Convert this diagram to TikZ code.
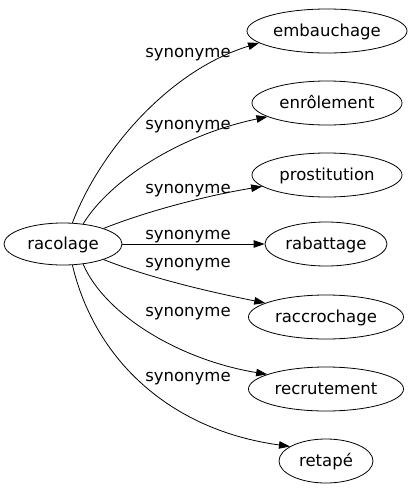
\documentclass[tikz,border=0pt]{standalone}
\usepackage{fontspec}
\setmainfont{DejaVu Sans}
\usetikzlibrary{shapes.geometric,arrows.meta}

\begin{document}
\begin{tikzpicture}[x=1pt,y=-1pt,line width=0.8pt,
    word/.style={draw,ellipse,inner sep=0pt,minimum height=44pt,
        text height=11pt,text depth=0pt,font=\fontsize{16.5}{19}\selectfont},
    syn/.style={anchor=base,inner sep=0pt,font=\fontsize{16.5}{19}\selectfont},
    >={Triangle[length=11pt,width=7.5pt]}]
    \useasboundingbox (0,0) rectangle (410,491);
    % left word and its synonyms
    \node[word,minimum width=118pt,minimum height=42pt] (racolage) at (63,244) {racolage};
    \node[word,minimum width=160pt] (embauchage) at (327,31) {embauchage};
    \node[word,minimum width=150pt] (enrolement) at (327,103) {enrôlement};
    \node[word,minimum width=150pt] (prostitution) at (327,175) {prostitution};
    \node[word,minimum width=122pt] (rabattage) at (326,244) {rabattage};
    \node[word,minimum width=155pt] (raccrochage) at (326,317) {raccrochage};
    \node[word,minimum width=155pt] (recrutement) at (326,389) {recrutement};
    \node[word,minimum width=94pt] (retape) at (326,461) {retapé};
    % edges
    \draw[->] (racolage.66) .. controls (100,150) and (170,70) .. (embauchage.190);
    \draw[->] (racolage.45) .. controls (110,180) and (180,135) .. (enrolement.193);
    \draw[->] (racolage.21) .. controls (150,210) and (210,195) .. (prostitution.190);
    \draw[->] (racolage.east) -- (rabattage.west);
    \draw[->] (racolage.-21) .. controls (150,278) and (210,292) .. (raccrochage.167);
    \draw[->] (racolage.-45) .. controls (105,315) and (180,360) .. (recrutement.166);
    \draw[->] (racolage.-66) .. controls (95,360) and (170,430) .. (retape.158);
    % labels
    \node[syn] (s1) at (188,57) {synonyme};
    \node[syn] (s2) at (188,129) {synonyme};
    \node[syn] (s3) at (188,193) {synonyme};
    \node[syn] (s4) at (188,239) {synonyme};
    \node[syn] (s5) at (188,267) {synonyme};
    \node[syn] (s6) at (188,316) {synonyme};
    \node[syn] (s7) at (188,381) {synonyme};
\end{tikzpicture}
\end{document}
